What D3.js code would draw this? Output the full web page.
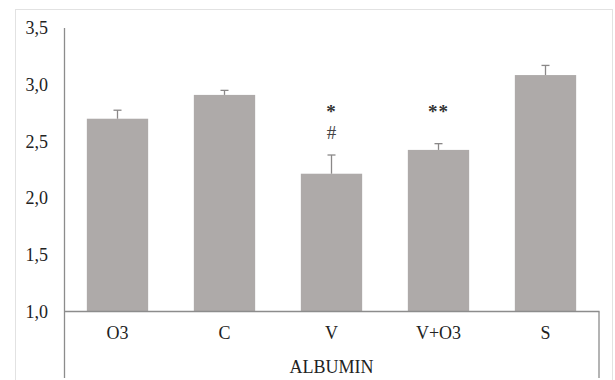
<!DOCTYPE html>
<html>
<head>
<meta charset="utf-8">
<script src="https://cdn.jsdelivr.net/npm/d3@7.9.0/dist/d3.min.js"></script>
<style>
  body { margin: 0; background: #fff; }
  svg { display: block; font-family: "Liberation Serif", "Times New Roman", serif; }
</style>
</head>
<body>
<svg id="chart" width="615" height="380"></svg>
<script>
// data
const groups = ['O3', 'C', 'V', 'V+O3', 'S'];
const means = [2.70, 2.91, 2.215, 2.425, 3.085];
const errors = [0.075, 0.04, 0.165, 0.055, 0.085];
const marksTop = ['', '', '*', '**', ''];
const marksLow = ['', '', '#', '', ''];
const yTicks = [1.0, 1.5, 2.0, 2.5, 3.0, 3.5];
const axisTitle = 'ALBUMIN';

const svg = d3.select('#chart');

// light outer frame
svg.append('rect')
  .attr('x', 15.5).attr('y', 9.5)
  .attr('width', 597).attr('height', 380)
  .attr('fill', 'none')
  .attr('stroke', '#e2e2e2');

let x = d3.scaleBand()
  .domain(groups)
  .range([64, 599])
  .paddingInner(0.427)
  .paddingOuter(0.2135);

let y = d3.scaleLinear()
  .domain([1.0, 3.5])
  .range([311.5, 28]);

// bars
svg.selectAll('rect.bar')
  .data(groups)
  .enter()
  .append('rect')
  .attr('class', 'bar')
  .attr('x', d => x(d))
  .attr('width', x.bandwidth())
  .attr('y', (d, i) => y(means[i]))
  .attr('height', (d, i) => y(1.0) - y(means[i]))
  .attr('fill', '#aeaaa9');

// error bars (upper only)
let errG = svg.append('g').attr('stroke', '#8a8888').attr('stroke-width', 1.3);
groups.forEach((g, i) => {
  let cx = x(g) + x.bandwidth() / 2;
  errG.append('line')
    .attr('x1', cx).attr('x2', cx)
    .attr('y1', y(means[i])).attr('y2', y(means[i] + errors[i]));
  errG.append('line')
    .attr('x1', cx - 4).attr('x2', cx + 4)
    .attr('y1', y(means[i] + errors[i])).attr('y2', y(means[i] + errors[i]));
});

// y axis: labels only, plain line
let yAxis = d3.axisLeft(y)
  .tickValues(yTicks)
  .tickSize(0)
  .tickPadding(16)
  .tickFormat(d => d3.format('.1f')(d).replace('.', ','));

let yG = svg.append('g')
  .attr('transform', 'translate(64,0)')
  .call(yAxis);
yG.select('.domain').remove();
yG.selectAll('text')
  .attr('font-family', '"Liberation Serif", serif')
  .attr('font-size', 18)
  .attr('fill', '#222');

// axis lines
let axisColor = '#8c8c8c';
svg.append('line')
  .attr('x1', 64.5).attr('x2', 64.5)
  .attr('y1', y(3.5)).attr('y2', 378)
  .attr('stroke', axisColor).attr('stroke-width', 1.3);
svg.append('line')
  .attr('x1', 64).attr('x2', 599.5)
  .attr('y1', y(1.0)).attr('y2', y(1.0))
  .attr('stroke', axisColor).attr('stroke-width', 1.3);
svg.append('line')
  .attr('x1', 599).attr('x2', 599)
  .attr('y1', y(1.0)).attr('y2', 378)
  .attr('stroke', axisColor).attr('stroke-width', 1.3);

// category labels
let xAxis = d3.axisBottom(x).tickSize(0).tickPadding(15);
let xG = svg.append('g')
  .attr('transform', `translate(0,${y(1.0)})`)
  .call(xAxis);
xG.select('.domain').remove();
xG.selectAll('text')
  .attr('font-family', '"Liberation Serif", serif')
  .attr('font-size', 18)
  .attr('fill', '#222');

svg.append('text')
  .attr('x', (64 + 599) / 2)
  .attr('y', 373)
  .attr('text-anchor', 'middle')
  .attr('font-size', 18)
  .attr('fill', '#222')
  .text(axisTitle);

// significance marks
groups.forEach((g, i) => {
  let cx = x(g) + x.bandwidth() / 2;
  if (marksTop[i]) {
    svg.append('text')
      .attr('x', cx).attr('y', 118)
      .attr('text-anchor', 'middle')
      .attr('font-size', 19)
      .attr('font-weight', 'bold')
      .attr('fill', '#333')
      .attr('letter-spacing', 1)
      .text(marksTop[i]);
  }
  if (marksLow[i]) {
    svg.append('text')
      .attr('x', cx).attr('y', 139)
      .attr('text-anchor', 'middle')
      .attr('font-size', 19)
      .attr('fill', '#444')
      .text(marksLow[i]);
  }
});
</script>
</body>
</html>
